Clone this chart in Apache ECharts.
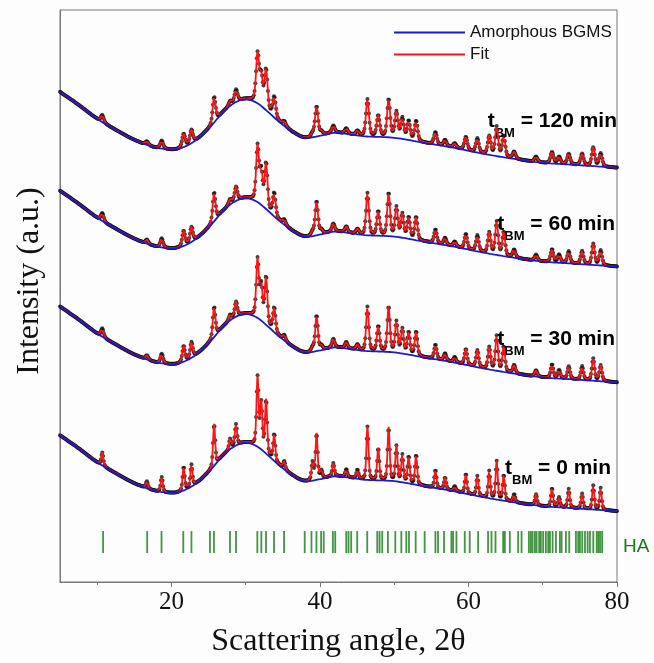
<!DOCTYPE html>
<html>
<head>
<meta charset="utf-8">
<title>XRD patterns - HA</title>
<script src="https://cdn.jsdelivr.net/npm/echarts@6.0.0/dist/echarts.min.js"></script>
<style>
    html, body { margin: 0; padding: 0; background: #fdfdfd; }
    #chart { width: 654px; height: 663px; }
</style>
</head>
<body>
<div id="chart"></div>
<script>
// amorphous background of the 0 min pattern, knots
const bgAngle = [5, 7.5, 10, 12.5, 15, 17.5, 19.5, 21, 23, 25, 27, 28.5, 30, 31.5, 33, 34.5, 36.5, 38, 40, 42, 44, 46, 50, 54, 58, 62, 66, 70, 74, 77, 80];
const bgLevel = [147, 134, 120, 109, 99, 92, 89.5, 90, 97, 110, 127, 136, 139.5, 136, 127, 117, 106, 101, 103, 106, 104.5, 102.5, 101, 96, 91, 85, 80, 76, 74, 72.5, 71];

// milling times and the vertical shift of each pattern (a.u.)
const samples = ['0 min', '30 min', '60 min', '120 min'];
const sampleShift = [0, 129, 245, 344];

// crystalline peaks: position (2θ) and height above background
const peakAngle = [10.7, 16.7, 18.7, 21.65, 22.7, 25.75, 27.9, 28.7, 31.6, 32.1, 32.75, 33.85, 35.2, 39.0, 39.55, 40.2, 41.8, 43.55, 45.05, 46.4, 47.85, 49.25, 50.3, 51.1, 51.95, 52.95, 55.55, 56.85, 58.15, 59.65, 61.2, 62.8, 63.8, 64.75, 66.15, 69.1, 71.25, 72.2, 73.5, 75.3, 76.8, 77.8];
const peakHeight0 = [13, 7, 15, 24, 22, 42, 10, 21, 69, 45, 53, 27, 8, 18, 46, 8, 13, 8, 9, 53, 32, 53, 35, 27, 27, 30, 18, 12, 5, 20, 20, 27, 38, 26, 8, 11, 19, 10, 19, 15, 24, 22];
const peakHeight60 = [8, 4, 9, 15, 15, 29, 5, 14, 55, 32, 45, 23, 5, 4, 34, 4, 8, 6, 5, 42, 24, 43, 29, 23, 21, 23, 14, 7, 5, 15, 16, 21, 33, 24, 8, 6, 13, 8, 12, 13, 21, 15];
const peakScale = [1, 1.05, 1, 0.88];
const peakWidth = [0.34, 0.42, 0.45, 0.48];

// HA reference reflections (green bars)
const haLines = [10.8, 16.74, 18.67, 21.6, 22.7, 25.19, 25.73, 27.89, 28.7, 31.57, 32.11, 32.74, 33.82, 35.17, 37.95, 38.86, 39.53, 40.16, 40.51, 41.74, 42.06, 43.54, 43.85, 44.21, 45.02, 46.37, 47.72, 48.03, 48.39, 49.15, 50.15, 50.96, 51.63, 51.99, 52.89, 54.1, 55.55, 55.9, 56.71, 57.7, 57.93, 58.38, 59.5, 60.17, 61.3, 62.64, 63.1, 63.64, 64.67, 64.9, 65.57, 66.69, 67.15, 68.13, 68.4, 68.63, 68.94, 69.17, 69.52, 69.75, 70.06, 70.42, 70.74, 70.97, 71.33, 71.78, 72.31, 72.54, 73.12, 73.57, 74.47, 74.78, 75.01, 75.32, 75.69, 76.05, 76.36, 76.81, 77.27, 77.49, 77.72, 78.0];

const xTicks = [20, 40, 60, 80];
const xMinorTicks = [10, 30, 50, 70];

// cubic hermite through the background knots
const bgAt = (x) => {
    let i = 0;
    while (i < bgAngle.length - 2 && x > bgAngle[i + 1]) i++;
    const slope = (k) => {
        const a = Math.max(k - 1, 0), b = Math.min(k + 1, bgAngle.length - 1);
        return (bgLevel[b] - bgLevel[a]) / (bgAngle[b] - bgAngle[a]);
    };
    const x0 = bgAngle[i], x1 = bgAngle[i + 1], h = x1 - x0;
    const t = (x - x0) / h;
    const t2 = t * t, t3 = t2 * t;
    return (2 * t3 - 3 * t2 + 1) * bgLevel[i] + (t3 - 2 * t2 + t) * h * slope(i)
        + (-2 * t3 + 3 * t2) * bgLevel[i + 1] + (t3 - t2) * h * slope(i + 1);
};
// pseudo-Voigt peak
const peakAt = (x, c, hgt, w) => {
    const d = (x - c) / w;
    return hgt * (0.6 * Math.exp(-4 * Math.LN2 * d * d) + 0.4 / (1 + 4 * d * d));
};

const step = 0.05;
const angles = [];
for (let k = 0; k <= Math.round((80 - 5) / step); k++) angles.push(+(5 + k * step).toFixed(2));

const series = [];
samples.forEach((name, s) => {
    const heights = s === 0 ? peakHeight0 : peakHeight60.map(h => h * peakScale[s]);
    const bg = angles.map(x => [x, bgAt(x) + sampleShift[s]]);
    const fit = angles.map((x, k) => {
        let y = bg[k][1];
        peakAngle.forEach((c, p) => { y += peakAt(x, c, heights[p], peakWidth[s]); });
        return [x, y];
    });
    series.push({
        name: 'Data ' + name, type: 'scatter', data: fit.filter((d, k) => k % 2 === 0), z: 1, silent: true,
        symbol: 'circle', symbolSize: 4, itemStyle: { color: '#111' }
    });
    series.push({
        name: 'Fit', type: 'line', data: fit, z: 2, showSymbol: false, silent: true,
        color: '#ff1414', lineStyle: { width: 1.8, color: '#ff1414' }
    });
    series.push({
        name: 'Amorphous BGMS', type: 'line', data: bg, z: 3, showSymbol: false, silent: true,
        color: '#1a1ad2', lineStyle: { width: 1.8, color: '#1a1ad2' }
    });
});
series.push({
    name: 'HA', type: 'scatter', data: haLines.map(x => [x, 40]), silent: true,
    symbol: 'rect', symbolSize: [1.8, 22], itemStyle: { color: '#137a13' }
});

const tLabel = (txt, x, y) => ({
    type: 'text', x: x, y: y, silent: true,
    style: {
        text: '{t|t}{s|BM}{t| = ' + txt + '}',
        align: 'right', verticalAlign: 'middle',
        rich: {
            t: { fontFamily: 'Liberation Sans', fontWeight: 'bold', fontSize: 21, color: '#111' },
            s: { fontFamily: 'Liberation Sans', fontWeight: 'bold', fontSize: 13, color: '#111', padding: [24, 0, 0, 0] }
        }
    }
});

const chart = echarts.init(document.getElementById('chart'), null, { renderer: 'canvas' });
chart.setOption({
    animation: false,
    backgroundColor: '#fdfdfd',
    grid: { left: 60, right: 37, top: 10, bottom: 80, show: true, borderColor: '#777', borderWidth: 1 },
    legend: {
        data: ['Amorphous BGMS', 'Fit'], orient: 'vertical', left: 394, top: 24,
        itemWidth: 71, itemHeight: 2, itemGap: 5, icon: 'rect', padding: 0, selectedMode: false,
        textStyle: { fontFamily: 'Liberation Sans', fontSize: 17, color: '#111' }
    },
    xAxis: [{
        type: 'value', min: 5, max: 80,
        name: 'Scattering angle, 2θ', nameLocation: 'middle', nameGap: 44,
        nameTextStyle: { fontFamily: 'Liberation Serif', fontSize: 32, color: '#111' },
        axisLine: { lineStyle: { color: '#777' } },
        axisTick: { customValues: xTicks, length: 5, lineStyle: { color: '#777' } },
        axisLabel: { customValues: xTicks, fontFamily: 'Liberation Serif', fontSize: 25, color: '#111', margin: 8 },
        splitLine: { show: false }
    }, {
        type: 'value', min: 5, max: 80, position: 'bottom',
        axisLine: { show: false },
        axisTick: { customValues: xMinorTicks, length: 3, lineStyle: { color: '#777' } },
        axisLabel: { show: false },
        splitLine: { show: false }
    }],
    yAxis: {
        type: 'value', min: 0, max: 573,
        axisLine: { show: true, lineStyle: { color: '#777' } },
        axisTick: { show: false }, axisLabel: { show: false }, splitLine: { show: false }
    },
    graphic: [
        {
            type: 'text', x: 30, y: 281, rotation: Math.PI / 2, silent: true,
            style: { text: 'Intensity (a.u.)', fontFamily: 'Liberation Serif', fontSize: 32, fill: '#111', align: 'center', verticalAlign: 'middle' }
        },
        {
            type: 'text', x: 623, y: 547, silent: true,
            style: { text: 'HA', fontFamily: 'Liberation Sans', fontSize: 19, fill: '#137a13', align: 'left', verticalAlign: 'middle' }
        },
        tLabel('120 min', 617, 121),
        tLabel('60 min', 615, 224),
        tLabel('30 min', 615, 339),
        tLabel('0 min', 611, 468)
    ],
    series: series
});
</script>
</body>
</html>
